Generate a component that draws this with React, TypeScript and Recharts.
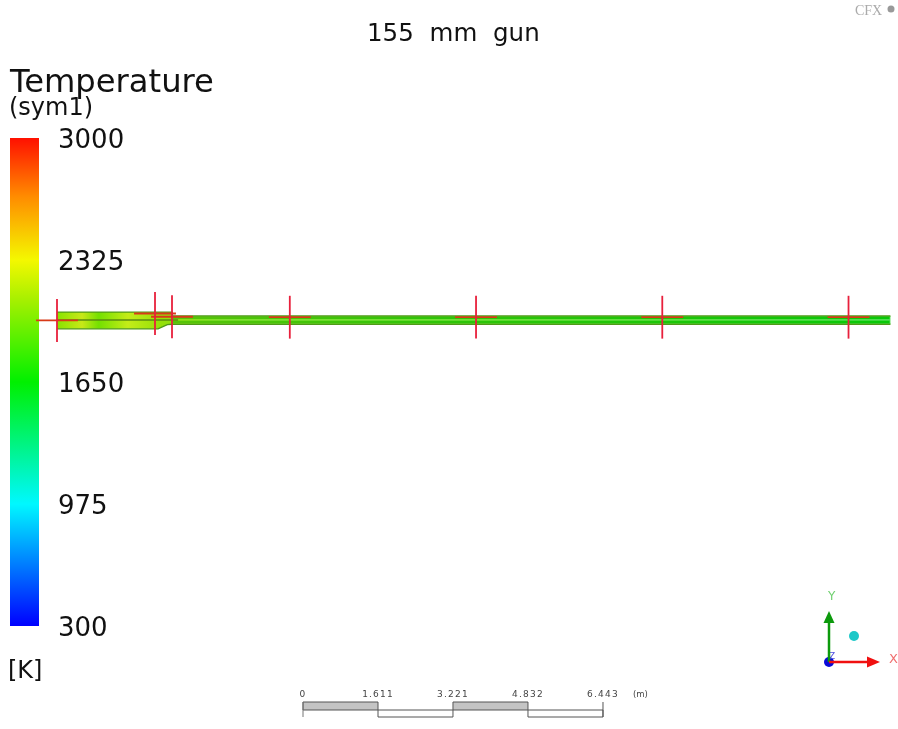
import {
  Area,
  ComposedChart,
  ErrorBar,
  Line,
  ReferenceArea,
  ReferenceLine,
  Scatter,
  XAxis,
  YAxis,
} from 'recharts'

const WIDTH = 898
const HEIGHT = 729
const PX_PER_M = 46.56
const BREECH_PX = 57
const AXIS_PX = 320

// gun outline, metres from breech / from the symmetry axis
const stations = [0, 2.17, 2.37, 2.47, 2.48, 17.9]
const upperWall = [0.17, 0.17, 0.17, 0.17, 0.086, 0.086]
const lowerWall = [-0.19, -0.19, -0.1, -0.09, -0.09, -0.09]

const boreStations = [2.48, 17.88]
const upperStripe = [0.07, 0.022]
const lowerStripe = [-0.016, -0.072]

const axisLine = [0, 2.6]

// probes
const probeX = [0, 2.105, 2.47, 5, 9, 13, 17]
const probeY = [-0.01, 0.14, 0.07, 0.06, 0.06, 0.06, 0.06]

// legend
const tempTicks = [300, 975, 1650, 2325, 3000]
const scaleTicks = [0, 1.611, 3.221, 4.832, 6.443]

const gunRows = stations.map((x, i) => ({ x, wall: [lowerWall[i], upperWall[i]] }))
const upperRows = boreStations.map((x) => ({ x, band: [upperStripe[1], upperStripe[0]] }))
const lowerRows = boreStations.map((x) => ({ x, band: [lowerStripe[1], lowerStripe[0]] }))
const axisRows = axisLine.map((x) => ({ x, y: 0 }))
const probeRows = probeX.map((x, i) => ({ x, y: probeY[i], ex: 0.45, ey: 0.46 }))

// triad, in page pixels
const triadGreen = [{ x: 829, y: 662 }, { x: 829, y: 620 }]
const triadRed = [{ x: 829, y: 662 }, { x: 868, y: 662 }]

const font = "'DejaVu Sans', sans-serif"

const ArrowUp = ({ cx, cy }: any) => (
  <path d={`M${cx} ${cy - 9} L${cx + 5.5} ${cy + 3} L${cx - 5.5} ${cy + 3} Z`} fill="#0c9a0c" />
)
const ArrowRight = ({ cx, cy }: any) => (
  <path d={`M${cx + 12} ${cy} L${cx - 1} ${cy + 5.5} L${cx - 1} ${cy - 5.5} Z`} fill="#f01010" />
)

export default function App() {
  return (
    <div style={{ position: 'absolute', left: 0, top: 0, filter: 'blur(0.5px)' }}>
      <ComposedChart
        width={WIDTH}
        height={HEIGHT}
        data={gunRows}
        margin={{ top: 0, right: 0, bottom: 0, left: 0 }}
      >
        <defs>
          <linearGradient id="tempScale" x1="0" y1="0" x2="0" y2="1">
            <stop offset="0" stopColor="#ff1000" />
            <stop offset="0.12" stopColor="#ff8c00" />
            <stop offset="0.25" stopColor="#f4f800" />
            <stop offset="0.33" stopColor="#a8f000" />
            <stop offset="0.5" stopColor="#00f000" />
            <stop offset="0.75" stopColor="#00f8ff" />
            <stop offset="1" stopColor="#0000ff" />
          </linearGradient>
          <linearGradient id="gunFill" x1="0" y1="0" x2="1" y2="0">
            <stop offset="0" stopColor="#88e400" />
            <stop offset="0.03" stopColor="#c8e818" />
            <stop offset="0.05" stopColor="#74e000" />
            <stop offset="0.085" stopColor="#c4ec18" />
            <stop offset="0.125" stopColor="#94e008" />
            <stop offset="0.2" stopColor="#80e030" />
            <stop offset="0.5" stopColor="#70e038" />
            <stop offset="1" stopColor="#50dc50" />
          </linearGradient>
          <linearGradient id="boreFill" x1="0" y1="0" x2="1" y2="0">
            <stop offset="0" stopColor="#58c408" />
            <stop offset="0.35" stopColor="#30c408" />
            <stop offset="1" stopColor="#08c808" />
          </linearGradient>
        </defs>

        {/* metres along the gun */}
        <XAxis
          dataKey="x"
          type="number"
          hide
          allowDataOverflow
          domain={[-BREECH_PX / PX_PER_M, (WIDTH - BREECH_PX) / PX_PER_M]}
        />
        <YAxis
          type="number"
          hide
          allowDataOverflow
          domain={[(AXIS_PX - HEIGHT) / PX_PER_M, AXIS_PX / PX_PER_M]}
        />
        {/* page pixels, for the legend furniture */}
        <XAxis xAxisId="px" dataKey="x" type="number" hide allowDataOverflow domain={[0, WIDTH]} />
        <YAxis yAxisId="px" type="number" hide reversed allowDataOverflow domain={[0, HEIGHT]} />
        {/* scale bar */}
        <XAxis
          xAxisId="scale"
          dataKey="x"
          type="number"
          orientation="top"
          mirror
          allowDataOverflow
          domain={[-303 / PX_PER_M, (WIDTH - 303) / PX_PER_M]}
          ticks={scaleTicks}
          interval={0}
          axisLine={false}
          tickLine={false}
          tick={({ x, payload }: any) => (
            <text
              x={x}
              y={697}
              textAnchor="middle"
              fontFamily={font}
              fontSize={9}
              letterSpacing={1.2}
              fill="#444"
            >
              {payload.value === 0 ? '0' : payload.value.toFixed(3)}
            </text>
          )}
        />
        {/* colour scale */}
        <YAxis
          yAxisId="temp"
          type="number"
          mirror
          allowDataOverflow
          domain={[300 - (103 * 2700) / 488, 3000 + (138 * 2700) / 488]}
          ticks={tempTicks}
          interval={0}
          axisLine={false}
          tickLine={false}
          tick={({ y, payload }: any) => (
            <text x={58} y={y + 10} fontFamily={font} fontSize={26} fill="#111">
              {payload.value}
            </text>
          )}
        />

        <ReferenceArea
          xAxisId="px"
          yAxisId="temp"
          x1={10}
          x2={39}
          y1={300}
          y2={3000}
          fill="url(#tempScale)"
          fillOpacity={1}
          stroke="none"
        />

        <Area
          data={gunRows}
          dataKey="wall"
          type="linear"
          fill="url(#gunFill)"
          fillOpacity={1}
          stroke="#4f9a18"
          strokeWidth={1.4}
          dot={false}
          activeDot={false}
          isAnimationActive={false}
        />
        <Area
          data={upperRows}
          dataKey="band"
          type="linear"
          fill="url(#boreFill)"
          fillOpacity={1}
          stroke="none"
          dot={false}
          activeDot={false}
          isAnimationActive={false}
        />
        <Area
          data={lowerRows}
          dataKey="band"
          type="linear"
          fill="url(#boreFill)"
          fillOpacity={1}
          stroke="none"
          dot={false}
          activeDot={false}
          isAnimationActive={false}
        />
        <Line
          data={axisRows}
          dataKey="y"
          stroke="#5a8a10"
          strokeWidth={1.4}
          dot={false}
          activeDot={false}
          isAnimationActive={false}
        />

        <Scatter
          data={probeRows}
          dataKey="y"
          shape={() => <g />}
          isAnimationActive={false}
        >
          <ErrorBar dataKey="ex" direction="x" width={0} stroke="#d83a18" strokeWidth={1.8} isAnimationActive={false} />
          <ErrorBar dataKey="ey" direction="y" width={0} stroke="#e8203c" strokeWidth={1.8} isAnimationActive={false} />
        </Scatter>

        {/* scale bar blocks */}
        <ReferenceArea xAxisId="scale" yAxisId="px" x1={scaleTicks[0]} x2={scaleTicks[1]} y1={702} y2={710} fill="#c4c4c4" fillOpacity={1} stroke="#555" />
        <ReferenceArea xAxisId="scale" yAxisId="px" x1={scaleTicks[1]} x2={scaleTicks[2]} y1={710} y2={717} fill="#fff" fillOpacity={1} stroke="#555" />
        <ReferenceArea xAxisId="scale" yAxisId="px" x1={scaleTicks[2]} x2={scaleTicks[3]} y1={702} y2={710} fill="#c4c4c4" fillOpacity={1} stroke="#555" />
        <ReferenceArea xAxisId="scale" yAxisId="px" x1={scaleTicks[3]} x2={scaleTicks[4]} y1={710} y2={717} fill="#fff" fillOpacity={1} stroke="#555" />
        <ReferenceLine
          xAxisId="scale"
          yAxisId="px"
          segment={[{ x: scaleTicks[0], y: 702 }, { x: scaleTicks[0], y: 717 }]}
          stroke="#777"
        />
        <ReferenceLine
          xAxisId="scale"
          yAxisId="px"
          segment={[{ x: scaleTicks[4], y: 702 }, { x: scaleTicks[4], y: 717 }]}
          stroke="#555"
        />

        {/* triad */}
        <Line xAxisId="px" yAxisId="px" data={triadGreen} dataKey="y" stroke="#0c9a0c" strokeWidth={2.5} dot={false} activeDot={false} isAnimationActive={false} />
        <Line xAxisId="px" yAxisId="px" data={triadRed} dataKey="y" stroke="#f01010" strokeWidth={2.5} dot={false} activeDot={false} isAnimationActive={false} />
        <Scatter xAxisId="px" yAxisId="px" data={triadGreen.slice(1)} dataKey="y" shape={ArrowUp} isAnimationActive={false} />
        <Scatter xAxisId="px" yAxisId="px" data={triadRed.slice(1)} dataKey="y" shape={ArrowRight} isAnimationActive={false} />

        <circle cx={829} cy={662} r={5} fill="#0a0ad8" />
        <circle cx={854} cy={636} r={5} fill="#1cc8c8" />

        <text x={367} y={41} fontFamily={font} fontSize={24.5} fill="#111" wordSpacing={8}>155 mm gun</text>
        <text x={10} y={92} fontFamily={font} fontSize={32.2} fill="#111">Temperature</text>
        <text x={9} y={115} fontFamily={font} fontSize={24} fill="#111">(sym1)</text>
        <text x={8} y={678} fontFamily={font} fontSize={24} fill="#111">[K]</text>
        <text x={633} y={697} fontFamily={font} fontSize={8.5} fill="#444">(m)</text>
        <text x={828} y={600} fontFamily={font} fontSize={12} fill="#70d070">Y</text>
        <text x={889} y={663} fontFamily={font} fontSize={13} fill="#f07070">X</text>
        <text x={829} y={659} fontFamily={font} fontSize={9} fill="#5050e0">Z</text>
        <text x={855} y={15} fontFamily="'Liberation Serif', serif" fontSize={14} fill="#aaa">CFX</text>
        <circle cx={891} cy={9} r={3.5} fill="#999" />
      </ComposedChart>
    </div>
  )
}
